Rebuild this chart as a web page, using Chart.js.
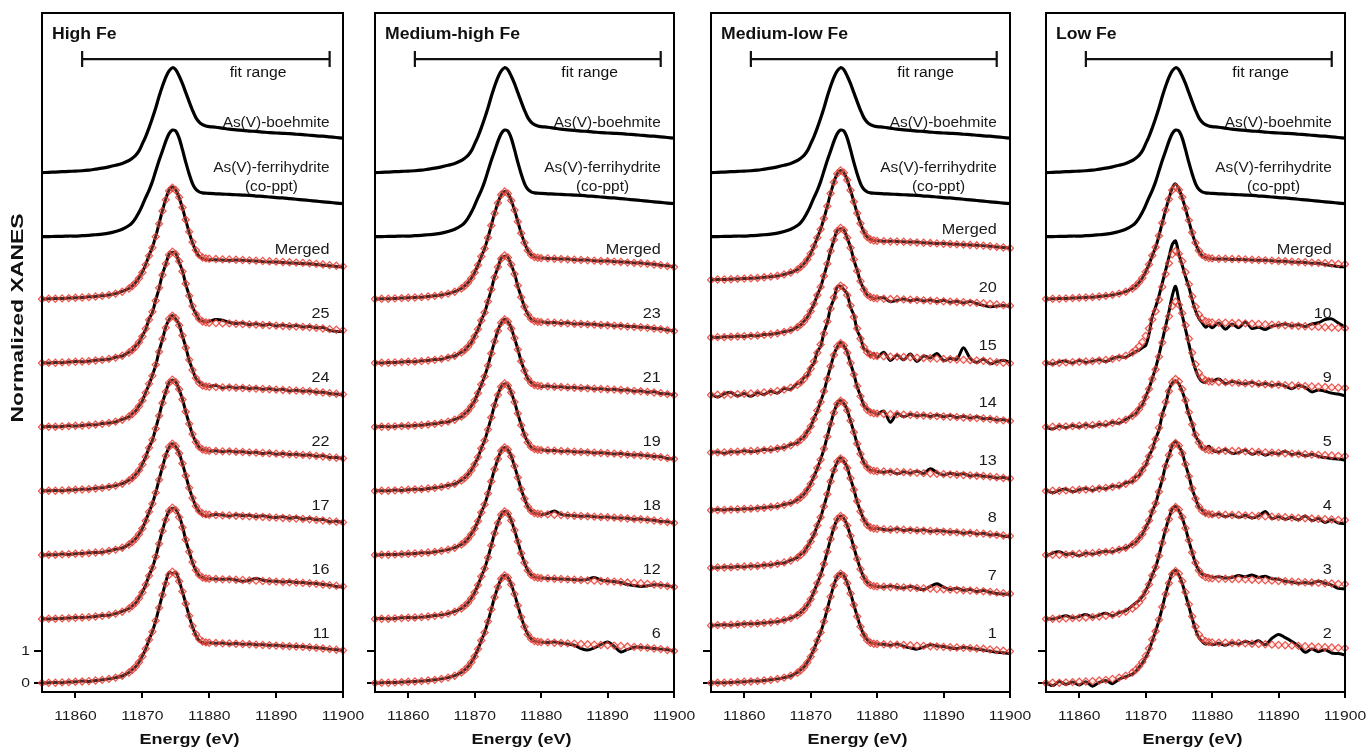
<!DOCTYPE html>
<html>
<head>
<meta charset="utf-8">
<title>As K-edge XANES fits</title>
<script src="https://cdn.jsdelivr.net/npm/chart.js@4.4.1/dist/chart.umd.min.js"></script>
<style>
  html, body { margin: 0; padding: 0; background: #fff; }
  #wrap { position: relative; width: 1369px; height: 751px; }
  #wrap canvas { position: absolute; left: 0; top: 0; }
</style>
</head>
<body>
<div id="wrap">
  <canvas id="c1" width="1369" height="751"></canvas>
  <canvas id="c2" width="1369" height="751"></canvas>
  <canvas id="c3" width="1369" height="751"></canvas>
  <canvas id="c4" width="1369" height="751"></canvas>
</div>
<script>
// Datos (XANES normalizado, sin desplazamiento vertical)
const energy = [11855,11856,11857,11858,11859,11860,11861,11862,11863,11864,11865,11866,11867,
  11868,11868.5,11869,11869.5,11870,11870.5,11871,11871.5,11872,11872.5,11873,11873.5,11874,11874.5,11875,11875.5,11876,11876.5,11877,11877.5,11878,11878.5,11879,11879.5,11880,
  11881,11882,11883,11884,11885,11886,11887,11888,11889,11890,11891,11892,11893,11894,11895,11896,11897,11898,11899,11900];

const xTicks = [11860, 11870, 11880, 11890, 11900];
const yTicks = [0, 1];
const fitRange = [11861, 11898];

// Estándares (iguales en los cuatro paneles)
const standardNames = ['As(V)-boehmite', 'As(V)-ferrihydrite'];
const standardOffsets = [15.95, 13.95];
const boehmite = [0.00,0.01,0.02,0.03,0.04,0.05,0.06,0.08,0.11,0.14,0.18,0.23,0.29,
  0.38,0.45,0.54,0.68,0.90,1.13,1.40,1.70,2.02,2.38,2.70,2.98,3.18,3.28,3.22,3.02,2.78,2.50,2.22,1.95,1.72,1.58,1.50,1.46,1.44,
  1.42,1.39,1.36,1.34,1.32,1.30,1.29,1.27,1.25,1.24,1.23,1.22,1.20,1.19,1.17,1.15,1.14,1.12,1.10,1.08];
const ferrihydrite = [0.00,0.00,0.01,0.01,0.02,0.02,0.03,0.04,0.06,0.08,0.11,0.16,0.23,
  0.35,0.44,0.58,0.76,0.98,1.22,1.45,1.72,2.05,2.38,2.68,2.98,3.22,3.33,3.30,3.08,2.72,2.32,1.96,1.66,1.48,1.40,1.37,1.36,1.35,
  1.34,1.33,1.32,1.31,1.30,1.29,1.27,1.26,1.24,1.22,1.21,1.19,1.17,1.15,1.13,1.11,1.09,1.07,1.05,1.03];

// Ajustes (rombos rojos)
const fitHigh = [0.00,0.01,0.01,0.02,0.03,0.04,0.05,0.06,0.08,0.10,0.13,0.17,0.23,
  0.33,0.41,0.51,0.65,0.83,1.07,1.35,1.60,1.95,2.35,2.75,3.10,3.38,3.48,3.40,3.18,2.86,2.48,2.10,1.78,1.53,1.38,1.30,1.27,1.26,
  1.25,1.24,1.24,1.23,1.22,1.21,1.20,1.19,1.18,1.17,1.16,1.15,1.14,1.13,1.12,1.10,1.08,1.06,1.04,1.02];
const fitMedHigh = [0.00,0.01,0.01,0.02,0.03,0.04,0.05,0.06,0.08,0.10,0.13,0.17,0.23,
  0.33,0.41,0.51,0.65,0.83,1.06,1.33,1.58,1.92,2.30,2.68,3.00,3.26,3.36,3.30,3.08,2.78,2.42,2.06,1.76,1.52,1.38,1.31,1.29,1.28,
  1.27,1.26,1.25,1.24,1.23,1.22,1.21,1.20,1.19,1.18,1.17,1.16,1.14,1.13,1.12,1.10,1.08,1.06,1.03,1.00];
const fitMedLow = [0.00,0.01,0.01,0.02,0.03,0.04,0.05,0.06,0.08,0.10,0.13,0.17,0.23,
  0.32,0.40,0.50,0.64,0.82,1.05,1.32,1.58,1.92,2.30,2.70,3.05,3.32,3.42,3.35,3.12,2.80,2.44,2.08,1.76,1.50,1.34,1.26,1.23,1.22,
  1.21,1.20,1.20,1.19,1.18,1.17,1.16,1.15,1.14,1.13,1.12,1.11,1.10,1.09,1.08,1.07,1.05,1.03,1.01,0.99];
const fitLow = [0.00,0.01,0.01,0.02,0.03,0.04,0.05,0.06,0.08,0.10,0.13,0.17,0.23,
  0.33,0.41,0.52,0.66,0.85,1.08,1.36,1.62,1.98,2.38,2.78,3.12,3.40,3.50,3.42,3.18,2.84,2.46,2.08,1.76,1.52,1.38,1.31,1.28,1.27,
  1.26,1.26,1.25,1.25,1.24,1.23,1.22,1.21,1.20,1.19,1.18,1.17,1.16,1.15,1.14,1.13,1.12,1.11,1.10,1.09];
const fitLow9 = [0.00,0.01,0.01,0.02,0.03,0.04,0.05,0.06,0.08,0.10,0.13,0.17,0.23,
  0.35,0.44,0.56,0.72,0.93,1.19,1.50,1.80,2.20,2.64,3.08,3.46,3.78,3.92,3.82,3.56,3.18,2.76,2.32,1.96,1.70,1.54,1.46,1.43,1.42,
  1.41,1.40,1.39,1.38,1.37,1.36,1.35,1.34,1.33,1.32,1.31,1.30,1.29,1.28,1.27,1.26,1.25,1.24,1.23,1.22];

// Panel "High Fe"
const highNames = ['Merged', '25', '24', '22', '17', '16', '11'];
const highOffsets = [12, 10, 8, 6, 4, 2, 0];
const highMerged = [0.00,0.01,0.02,0.02,0.03,0.04,0.05,0.07,0.08,0.10,0.13,0.17,0.24,
  0.33,0.41,0.52,0.66,0.84,1.08,1.36,1.62,1.96,2.36,2.76,3.12,3.40,3.50,3.41,3.17,2.84,2.46,2.08,1.76,1.50,1.34,1.27,1.24,1.23,
  1.23,1.22,1.21,1.22,1.21,1.20,1.19,1.17,1.16,1.16,1.14,1.13,1.12,1.11,1.10,1.08,1.06,1.04,1.02,1.00];
const high25 = [0.01,0.00,0.02,0.01,0.03,0.05,0.04,0.06,0.09,0.10,0.12,0.18,0.22,
  0.34,0.40,0.53,0.64,0.85,1.05,1.37,1.58,1.97,2.33,2.78,3.08,3.40,3.46,3.42,3.15,2.88,2.45,2.12,1.75,1.55,1.36,1.31,1.28,1.30,
  1.36,1.34,1.27,1.24,1.25,1.20,1.23,1.18,1.21,1.16,1.19,1.15,1.17,1.13,1.14,1.10,1.11,1.02,0.99,0.98];
const high24 = [0.00,0.02,0.01,0.02,0.04,0.03,0.05,0.07,0.07,0.11,0.13,0.16,0.24,
  0.32,0.42,0.50,0.66,0.82,1.08,1.33,1.62,1.93,2.37,2.73,3.12,3.36,3.49,3.38,3.20,2.84,2.50,2.08,1.80,1.52,1.40,1.32,1.29,1.27,
  1.30,1.22,1.26,1.22,1.24,1.20,1.22,1.18,1.20,1.16,1.18,1.13,1.15,1.12,1.13,1.09,1.09,1.05,1.03,1.01];
const high22 = [0.01,0.01,0.02,0.01,0.03,0.04,0.06,0.06,0.09,0.10,0.14,0.17,0.23,
  0.34,0.40,0.52,0.64,0.84,1.06,1.36,1.59,1.96,2.34,2.76,3.09,3.39,3.47,3.41,3.17,2.87,2.47,2.11,1.77,1.54,1.37,1.29,1.28,1.25,
  1.26,1.23,1.25,1.22,1.23,1.20,1.21,1.17,1.20,1.15,1.17,1.14,1.15,1.12,1.13,1.09,1.10,1.05,1.05,1.01];
const high17 = [0.00,0.01,0.01,0.03,0.02,0.04,0.05,0.07,0.08,0.09,0.13,0.18,0.22,
  0.33,0.42,0.51,0.65,0.83,1.07,1.34,1.61,1.95,2.36,2.74,3.11,3.37,3.48,3.39,3.19,2.85,2.49,2.09,1.79,1.52,1.36,1.27,1.22,1.24,
  1.27,1.25,1.22,1.26,1.23,1.24,1.20,1.23,1.19,1.17,1.20,1.15,1.18,1.12,1.15,1.10,1.11,1.04,1.06,1.02];
const high16 = [0.01,0.00,0.01,0.02,0.03,0.05,0.05,0.06,0.08,0.11,0.12,0.17,0.24,
  0.33,0.41,0.50,0.66,0.84,1.06,1.36,1.60,1.94,2.36,2.76,3.12,3.38,3.46,3.42,3.22,2.90,2.46,2.12,1.77,1.52,1.36,1.30,1.25,1.26,
  1.25,1.24,1.25,1.22,1.18,1.21,1.27,1.21,1.19,1.18,1.16,1.17,1.14,1.14,1.12,1.11,1.08,1.06,1.02,1.00];
const high11 = [0.00,0.01,0.02,0.01,0.03,0.04,0.06,0.05,0.08,0.10,0.13,0.17,0.22,
  0.33,0.42,0.51,0.65,0.84,1.06,1.35,1.61,1.94,2.35,2.76,3.15,3.46,3.42,3.46,3.20,2.85,2.48,2.09,1.76,1.50,1.32,1.27,1.24,1.26,
  1.24,1.25,1.22,1.24,1.21,1.22,1.20,1.20,1.18,1.18,1.16,1.16,1.14,1.14,1.12,1.10,1.09,1.06,1.04,1.02];

// Panel "Medium-high Fe"
const medHighNames = ['Merged', '23', '21', '19', '18', '12', '6'];
const medHighOffsets = [12, 10, 8, 6, 4, 2, 0];
const medHighMerged = [0.00,0.01,0.01,0.02,0.03,0.04,0.05,0.06,0.08,0.10,0.13,0.17,0.23,
  0.33,0.41,0.51,0.65,0.83,1.06,1.33,1.58,1.92,2.30,2.68,3.00,3.26,3.36,3.30,3.08,2.78,2.42,2.06,1.76,1.52,1.38,1.31,1.29,1.28,
  1.27,1.26,1.25,1.25,1.23,1.22,1.22,1.20,1.19,1.19,1.17,1.16,1.15,1.13,1.13,1.10,1.09,1.06,1.04,1.01];
const med23 = [0.01,0.00,0.02,0.02,0.03,0.05,0.04,0.07,0.08,0.11,0.12,0.18,0.22,
  0.34,0.40,0.52,0.64,0.84,1.05,1.34,1.57,1.93,2.29,2.70,2.98,3.28,3.34,3.31,3.06,2.80,2.40,2.07,1.75,1.53,1.37,1.32,1.28,1.29,
  1.26,1.27,1.24,1.26,1.22,1.23,1.21,1.21,1.18,1.20,1.16,1.17,1.14,1.14,1.12,1.11,1.08,1.07,1.03,1.01];
const med21 = [0.00,0.02,0.01,0.02,0.04,0.03,0.05,0.06,0.09,0.10,0.14,0.16,0.24,
  0.32,0.42,0.50,0.66,0.82,1.07,1.32,1.59,1.91,2.31,2.67,3.02,3.25,3.37,3.29,3.10,2.77,2.43,2.05,1.77,1.51,1.39,1.30,1.30,1.27,
  1.28,1.25,1.26,1.23,1.24,1.21,1.23,1.19,1.20,1.17,1.18,1.15,1.16,1.12,1.13,1.09,1.10,1.05,1.04,1.00];
const med19 = [0.01,0.01,0.01,0.03,0.02,0.04,0.06,0.05,0.08,0.10,0.13,0.18,0.22,
  0.34,0.41,0.52,0.65,0.84,1.05,1.34,1.58,1.93,2.30,2.69,3.01,3.27,3.35,3.31,3.07,2.79,2.41,2.07,1.75,1.53,1.37,1.31,1.28,1.29,
  1.26,1.27,1.24,1.25,1.23,1.22,1.22,1.19,1.20,1.18,1.16,1.17,1.14,1.13,1.13,1.10,1.08,1.07,1.02,1.01];
const med18 = [0.00,0.01,0.02,0.02,0.03,0.04,0.05,0.07,0.07,0.10,0.13,0.17,0.23,
  0.33,0.40,0.51,0.66,0.83,1.06,1.34,1.58,1.91,2.31,2.68,3.00,3.27,3.36,3.29,3.09,2.77,2.43,2.05,1.77,1.51,1.38,1.30,1.29,1.27,
  1.30,1.38,1.27,1.24,1.23,1.21,1.22,1.20,1.18,1.19,1.16,1.16,1.15,1.12,1.13,1.10,1.09,1.05,1.04,1.00];
const med12 = [0.01,0.02,0.01,0.02,0.04,0.05,0.04,0.06,0.08,0.11,0.13,0.17,0.24,
  0.33,0.41,0.51,0.65,0.83,1.06,1.33,1.58,1.92,2.30,2.68,3.00,3.26,3.36,3.30,3.08,2.78,2.42,2.06,1.76,1.52,1.38,1.31,1.29,1.28,
  1.27,1.26,1.25,1.24,1.23,1.22,1.24,1.30,1.22,1.19,1.17,1.14,1.08,1.05,1.02,1.04,1.07,1.06,1.04,1.00];
const med6 = [0.00,0.01,0.02,0.02,0.03,0.04,0.05,0.06,0.08,0.10,0.13,0.17,0.23,
  0.33,0.41,0.51,0.65,0.83,1.06,1.33,1.58,1.92,2.30,2.68,3.00,3.26,3.36,3.30,3.08,2.78,2.42,2.06,1.76,1.52,1.38,1.31,1.29,1.28,
  1.27,1.28,1.25,1.22,1.18,1.08,1.03,1.10,1.20,1.28,1.15,0.97,1.05,1.12,1.12,1.10,1.08,1.06,1.04,1.01];

// Panel "Medium-low Fe"
const medLowNames = ['Merged', '20', '15', '14', '13', '8', '7', '1'];
const medLowOffsets = [12.6, 10.8, 9.0, 7.2, 5.4, 3.6, 1.8, 0];
const medLowMerged = [0.00,0.01,0.01,0.02,0.03,0.04,0.05,0.06,0.08,0.10,0.12,0.17,0.23,
  0.32,0.40,0.50,0.64,0.82,1.05,1.32,1.58,1.92,2.30,2.70,3.05,3.32,3.42,3.35,3.12,2.80,2.44,2.08,1.76,1.50,1.34,1.26,1.23,1.22,
  1.21,1.21,1.20,1.19,1.18,1.18,1.16,1.15,1.14,1.14,1.12,1.11,1.10,1.09,1.08,1.07,1.05,1.03,1.01,0.99];
const ml20 = [0.01,0.00,0.02,0.02,0.04,0.03,0.06,0.05,0.09,0.10,0.13,0.18,0.22,
  0.33,0.39,0.51,0.63,0.83,1.04,1.33,1.57,1.93,2.29,2.71,3.04,3.34,3.40,3.36,3.10,2.82,2.42,2.10,1.74,1.52,1.33,1.27,1.22,1.23,
  1.24,1.12,1.16,1.20,1.15,1.19,1.14,1.17,1.12,1.16,1.10,1.13,1.08,1.12,1.06,1.00,0.96,0.98,1.00,0.97];
const ml15 = [0.03,-0.06,0.04,0.08,-0.03,0.05,-0.04,0.07,0.02,0.12,0.06,0.20,0.18,
  0.36,0.38,0.55,0.60,0.86,1.00,1.36,1.52,1.96,2.26,2.74,3.00,3.38,3.40,3.30,3.16,2.74,2.50,2.02,1.80,1.45,1.38,1.22,1.30,1.18,
  1.34,1.08,1.25,1.10,1.28,1.05,1.22,1.16,1.30,1.08,1.14,1.12,1.48,1.15,1.02,1.12,0.98,1.04,1.08,1.02];
const ml14 = [0.01,0.02,-0.02,0.03,0.02,0.06,0.03,0.05,0.10,0.08,0.14,0.16,0.25,
  0.31,0.42,0.49,0.66,0.81,1.07,1.30,1.60,1.90,2.32,2.68,3.06,3.30,3.44,3.34,3.14,2.78,2.46,2.06,1.78,1.48,1.36,1.28,1.25,1.20,
  1.30,0.95,1.22,1.12,1.20,1.15,1.18,1.13,1.18,1.12,1.16,1.10,1.14,1.08,1.12,1.06,1.07,1.02,1.03,0.98];
const ml13 = [0.00,0.02,0.01,0.03,0.02,0.05,0.04,0.07,0.08,0.11,0.12,0.18,0.22,
  0.33,0.41,0.50,0.65,0.83,1.06,1.31,1.59,1.91,2.31,2.69,3.06,3.33,3.43,3.34,3.13,2.79,2.45,2.07,1.77,1.49,1.35,1.25,1.24,1.21,
  1.19,1.22,1.14,1.20,1.16,1.22,1.15,1.30,1.18,1.10,1.16,1.11,1.14,1.07,1.10,1.06,1.05,1.01,1.02,0.98];
const ml8 = [0.01,0.00,0.03,0.02,0.04,0.03,0.06,0.05,0.09,0.09,0.14,0.15,0.24,
  0.32,0.42,0.49,0.66,0.84,1.04,1.33,1.57,1.93,2.29,2.71,3.04,3.31,3.44,3.33,3.14,2.78,2.46,2.06,1.78,1.51,1.36,1.24,1.22,1.23,
  1.20,1.18,1.22,1.17,1.20,1.16,1.19,1.14,1.16,1.15,1.12,1.13,1.08,1.11,1.06,1.08,1.03,1.04,0.99,0.98];
const ml7 = [0.00,0.01,0.02,0.01,0.03,0.05,0.05,0.06,0.08,0.10,0.12,0.17,0.23,
  0.33,0.40,0.51,0.64,0.82,1.05,1.32,1.58,1.92,2.30,2.70,3.05,3.32,3.42,3.35,3.12,2.80,2.44,2.08,1.76,1.50,1.34,1.26,1.23,1.22,
  1.20,1.23,1.19,1.17,1.22,1.16,1.12,1.22,1.30,1.20,1.12,1.16,1.10,1.12,1.06,1.09,1.04,1.00,0.98,0.97];
const ml1 = [0.01,0.01,0.01,0.02,0.03,0.04,0.06,0.06,0.08,0.10,0.13,0.17,0.22,
  0.33,0.41,0.50,0.65,0.83,1.05,1.33,1.58,1.92,2.31,2.70,3.06,3.33,3.42,3.36,3.12,2.81,2.44,2.09,1.76,1.51,1.35,1.26,1.24,1.22,
  1.21,1.18,1.22,1.15,1.10,1.06,1.12,1.20,1.16,1.14,1.10,1.08,1.12,1.09,1.06,1.03,1.00,0.96,0.95,0.92];

// Panel "Low Fe"
const lowNames = ['Merged', '10', '9', '5', '4', '3', '2'];
const lowOffsets = [12, 10, 8, 6, 4, 2, 0];
const lowMerged = [0.00,0.01,0.02,0.02,0.03,0.04,0.05,0.06,0.08,0.10,0.13,0.17,0.23,
  0.33,0.41,0.52,0.66,0.85,1.08,1.36,1.62,1.98,2.38,2.78,3.14,3.46,3.60,3.44,3.16,2.82,2.44,2.06,1.74,1.50,1.36,1.30,1.28,1.26,
  1.25,1.25,1.24,1.24,1.23,1.22,1.21,1.21,1.20,1.18,1.18,1.16,1.15,1.14,1.12,1.12,1.08,1.05,1.02,1.00];
const low10 = [0.02,-0.03,0.04,0.06,0.00,0.08,0.02,0.06,0.10,0.05,0.14,0.20,0.18,
  0.30,0.36,0.40,0.48,0.55,0.90,1.45,1.75,2.10,2.50,2.90,3.30,3.70,3.82,3.40,3.06,2.70,2.38,1.98,1.64,1.40,1.26,1.12,1.18,1.10,
  1.25,1.06,1.22,1.10,1.28,1.08,1.12,1.05,1.15,1.18,1.22,1.16,1.20,1.14,1.22,1.26,1.36,1.38,1.25,1.12];
const low9 = [0.00,-0.06,0.03,-0.02,0.05,0.00,0.07,0.01,0.09,0.06,0.15,0.12,0.24,
  0.36,0.42,0.58,0.70,0.95,1.20,1.52,1.85,2.25,2.70,3.15,3.60,4.10,4.40,3.95,3.50,3.05,2.60,2.15,1.80,1.55,1.42,1.40,1.48,1.44,
  1.50,1.36,1.42,1.38,1.35,1.40,1.32,1.36,1.30,1.34,1.28,1.20,1.30,1.24,1.10,1.16,1.12,1.06,1.03,0.98];
const low5 = [0.04,-0.05,0.02,0.06,-0.02,0.04,0.08,0.02,0.10,0.07,0.16,0.14,0.26,
  0.30,0.45,0.48,0.68,0.80,1.10,1.30,1.64,1.90,2.40,2.70,3.15,3.38,3.45,3.35,3.12,2.80,2.40,2.10,1.72,1.55,1.34,1.32,1.40,1.28,
  1.22,1.30,1.18,1.20,1.28,1.15,1.22,1.12,1.20,1.16,1.24,1.14,1.18,1.10,1.15,1.08,1.05,1.02,1.00,0.97];
const low4 = [-0.04,0.06,0.10,0.02,0.05,-0.02,0.06,0.03,0.08,0.12,0.10,0.18,0.22,
  0.34,0.40,0.53,0.65,0.86,1.06,1.38,1.60,2.00,2.36,2.80,3.10,3.42,3.55,3.40,3.20,2.82,2.48,2.06,1.78,1.50,1.40,1.28,1.30,1.24,
  1.28,1.20,1.26,1.18,1.24,1.16,1.22,1.36,1.14,1.20,1.12,1.18,1.10,1.22,1.08,1.14,1.02,1.10,1.00,0.98];
const low3 = [0.02,0.00,0.05,0.10,0.04,0.08,0.14,0.06,0.12,0.18,0.10,0.20,0.26,
  0.42,0.50,0.58,0.70,0.88,1.10,1.38,1.62,1.98,2.40,2.80,3.15,3.44,3.52,3.40,3.16,2.84,2.44,2.08,1.74,1.52,1.40,1.36,1.34,1.30,
  1.32,1.28,1.30,1.36,1.32,1.38,1.30,1.34,1.26,1.24,1.18,1.16,1.12,1.14,1.12,1.18,1.12,1.06,0.96,0.94];
const low2 = [0.02,-0.08,0.05,-0.04,0.03,-0.06,0.04,-0.10,0.02,0.08,-0.02,0.12,0.20,
  0.28,0.36,0.50,0.62,0.80,1.02,1.32,1.62,1.96,2.36,2.78,3.14,3.44,3.52,3.38,3.12,2.76,2.40,2.02,1.68,1.42,1.30,1.22,1.25,1.20,
  1.24,1.18,1.26,1.22,1.30,1.24,1.32,1.20,1.40,1.52,1.42,1.30,1.16,0.96,1.06,0.98,1.04,0.94,0.92,0.88];

const FONT = '"Liberation Sans", Arial, Helvetica, sans-serif';

// Paneles: posición del marco en píxeles
const panels = [
  { canvas: 'c1', title: 'High Fe', left: 42, right: 343, yLabels: true,
    names: highNames, offsets: highOffsets,
    data: [highMerged, high25, high24, high22, high17, high16, high11],
    fits: [fitHigh, fitHigh, fitHigh, fitHigh, fitHigh, fitHigh, fitHigh] },
  { canvas: 'c2', title: 'Medium-high Fe', left: 375, right: 674, yLabels: false,
    names: medHighNames, offsets: medHighOffsets,
    data: [medHighMerged, med23, med21, med19, med18, med12, med6],
    fits: [fitMedHigh, fitMedHigh, fitMedHigh, fitMedHigh, fitMedHigh, fitMedHigh, fitMedHigh] },
  { canvas: 'c3', title: 'Medium-low Fe', left: 711, right: 1010, yLabels: false,
    names: medLowNames, offsets: medLowOffsets,
    data: [medLowMerged, ml20, ml15, ml14, ml13, ml8, ml7, ml1],
    fits: [fitMedLow, fitMedLow, fitMedLow, fitMedLow, fitMedLow, fitMedLow, fitMedLow, fitMedLow] },
  { canvas: 'c4', title: 'Low Fe', left: 1046, right: 1345, yLabels: false,
    names: lowNames, offsets: lowOffsets,
    data: [lowMerged, low10, low9, low5, low4, low3, low2],
    fits: [fitLow, fitLow, fitLow9, fitLow, fitLow, fitLow, fitLow] }
];

// Texto con estiramiento horizontal (la figura original está ensanchada)
function drawText(ctx, text, x, y, align, font, sx, color) {
  ctx.save();
  ctx.font = font;
  ctx.fillStyle = color;
  ctx.textBaseline = 'middle';
  ctx.textAlign = 'left';
  const w = ctx.measureText(text).width * sx;
  let x0 = x;
  if (align === 'right') x0 = x - w;
  else if (align === 'center') x0 = x - w / 2;
  ctx.translate(x0, y);
  ctx.scale(sx, 1);
  ctx.fillText(text, 0, 0);
  ctx.restore();
  return w;
}

const panelText = {
  id: 'panelText',
  afterDraw(chart, args, opts) {
    const ctx = chart.ctx;
    const a = chart.chartArea;
    const xs = chart.scales.x, ys = chart.scales.y;

    // marco
    ctx.save();
    ctx.strokeStyle = '#000';
    ctx.lineWidth = 2;
    ctx.strokeRect(a.left, a.top, a.right - a.left, a.bottom - a.top);
    ctx.restore();

    // título del panel
    drawText(ctx, opts.title, a.left + 10, a.top + 22, 'left', 'bold 16px ' + FONT, 1.1, '#111');

    // barra "fit range"
    const fx1 = xs.getPixelForValue(fitRange[0]);
    const fx2 = xs.getPixelForValue(fitRange[1]);
    const fy = ys.getPixelForValue(19.5);
    ctx.save();
    ctx.strokeStyle = '#111';
    ctx.lineWidth = 2.2;
    ctx.beginPath();
    ctx.moveTo(fx1, fy); ctx.lineTo(fx2, fy);
    ctx.moveTo(fx1, fy - 8); ctx.lineTo(fx1, fy + 8);
    ctx.moveTo(fx2, fy - 8); ctx.lineTo(fx2, fy + 8);
    ctx.stroke();
    ctx.restore();
    drawText(ctx, 'fit range', xs.getPixelForValue(11887.3), ys.getPixelForValue(19.1) + 1, 'center', '14px ' + FONT, 1.12, '#111');

    // etiquetas de los espectros
    const lx = xs.getPixelForValue(11898);
    const lf = '14px ' + FONT;
    drawText(ctx, standardNames[0], lx, ys.getPixelForValue(standardOffsets[0] + 1.56), 'right', lf, 1.1, '#1a1a1a');
    const cy = ys.getPixelForValue(standardOffsets[1] + 1.56);
    const w = drawText(ctx, standardNames[1], lx, cy - 19, 'right', lf, 1.1, '#1a1a1a');
    drawText(ctx, '(co-ppt)', lx - w / 2, cy, 'center', lf, 1.1, '#1a1a1a');
    opts.names.forEach((n, i) => {
      drawText(ctx, n, lx, ys.getPixelForValue(opts.offsets[i] + 1.55), 'right', '15px ' + FONT, 1.08, '#1a1a1a');
    });

    // etiquetas del eje x
    xTicks.forEach(v => {
      drawText(ctx, String(v), xs.getPixelForValue(v), a.bottom + 24, 'center', '13.5px ' + FONT, 1.16, '#1a1a1a');
    });
    drawText(ctx, 'Energy (eV)', (a.left + a.right) / 2 - 3, 740, 'center', 'bold 15px ' + FONT, 1.2, '#111');

    // eje y (solo primer panel)
    if (opts.yLabels) {
      yTicks.forEach(v => {
        drawText(ctx, String(v), a.left - 12, ys.getPixelForValue(v), 'right', '13.5px ' + FONT, 1.16, '#1a1a1a');
      });
      ctx.save();
      ctx.translate(18, 318);
      ctx.rotate(-Math.PI / 2);
      drawText(ctx, 'Normalized XANES', 0, 0, 'center', 'bold 17px ' + FONT, 1.35, '#111');
      ctx.restore();
    }
  }
};

function series(values, offset) {
  return energy.map((e, i) => ({ x: e, y: values[i] + offset }));
}

function buildChart(p) {
  const datasets = [];
  [boehmite, ferrihydrite].forEach((s, i) => {
    datasets.push({
      data: series(s, standardOffsets[i]),
      borderColor: '#000', borderWidth: 3.2, pointRadius: 0,
      tension: 0.3, order: 2
    });
  });
  p.data.forEach((d, i) => {
    datasets.push({
      data: series(d, p.offsets[i]),
      borderColor: '#000', borderWidth: 3, pointRadius: 0,
      tension: 0.3, order: 2
    });
    datasets.push({
      data: series(p.fits[i], p.offsets[i]),
      showLine: false,
      pointStyle: 'rectRot', pointRadius: 3.6,
      pointBorderWidth: 1.2,
      pointBorderColor: 'rgba(232,60,50,0.85)',
      pointBackgroundColor: 'rgba(255,170,160,0.25)',
      order: 1
    });
  });

  new Chart(document.getElementById(p.canvas), {
    type: 'line',
    data: { datasets },
    options: {
      responsive: false,
      animation: false,
      devicePixelRatio: 1,
      events: [],
      clip: 4,
      layout: { padding: { left: p.left - 42, right: 1369 - p.right, top: 13, bottom: 0 } },
      plugins: {
        legend: { display: false },
        tooltip: { enabled: false },
        panelText: { title: p.title, names: p.names, offsets: p.offsets, yLabels: p.yLabels }
      },
      scales: {
        x: {
          type: 'linear', min: 11855, max: 11900,
          afterBuildTicks: s => { s.ticks = xTicks.map(v => ({ value: v })); },
          afterFit: s => { s.height = 59; },
          ticks: { display: false },
          grid: { drawOnChartArea: false, drawTicks: true, tickLength: 6, lineWidth: 2, color: '#000' },
          border: { display: false }
        },
        y: {
          type: 'linear', min: -0.28, max: 20.94,
          afterBuildTicks: s => { s.ticks = yTicks.map(v => ({ value: v })); },
          afterFit: s => { s.width = 42; },
          ticks: { display: false },
          grid: { drawOnChartArea: false, drawTicks: true, tickLength: 8, lineWidth: 2, color: '#000' },
          border: { display: false }
        }
      }
    },
    plugins: [panelText]
  });
}

panels.forEach(buildChart);
</script>
</body>
</html>
